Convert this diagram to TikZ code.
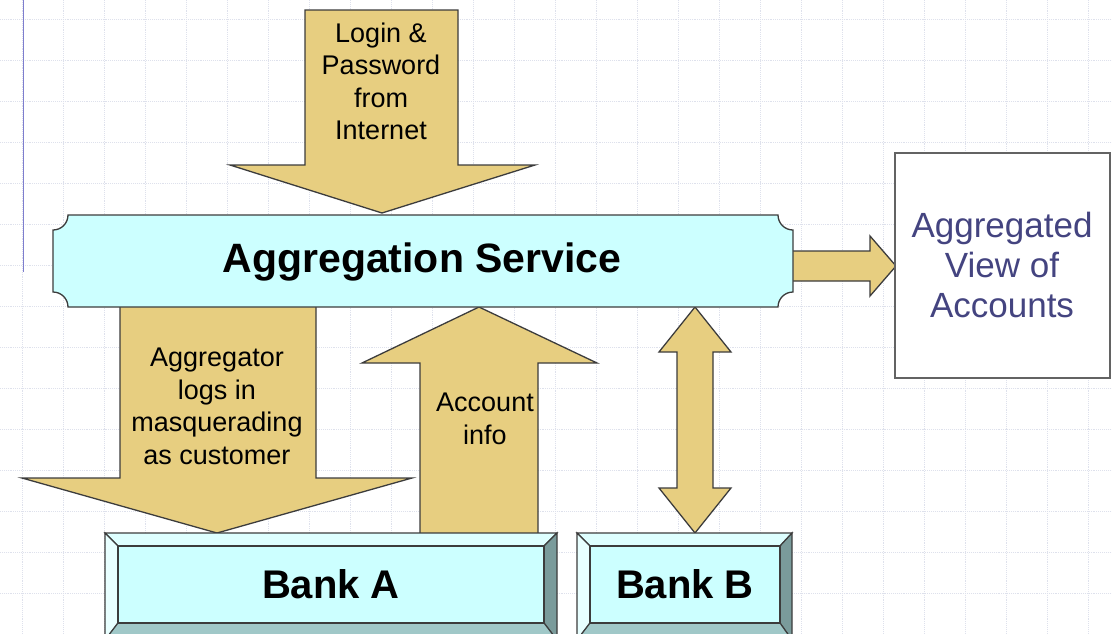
\documentclass[tikz,border=0pt]{standalone}
\usepackage{fontspec}
\setmainfont{Liberation Sans}
\usetikzlibrary{calc}
\definecolor{arrowfill}{RGB}{231,206,128}
\definecolor{edgegray}{RGB}{60,60,60}
\definecolor{boxcyan}{RGB}{204,255,255}
\definecolor{bevtop}{RGB}{222,255,255}
\definecolor{bevleft}{RGB}{232,255,255}
\definecolor{bevright}{RGB}{122,155,155}
\definecolor{bevbottom}{RGB}{160,200,200}
\definecolor{gridline}{RGB}{222,225,236}
\definecolor{viewtext}{RGB}{68,68,128}

\begin{document}
\begin{tikzpicture}[x=1pt,y=-1pt,
    blockarrow/.style={fill=arrowfill, draw=edgegray, line width=1.3pt},
    bevel/.style={draw=edgegray, line width=1.2pt},
    arrowtext/.style={align=center, inner sep=0pt, font=\fontsize{27}{32.5}\selectfont},
    banktext/.style={inner sep=0pt, font=\fontsize{40}{48}\selectfont\bfseries}]

    \clip (0,0) rectangle (1112,633);
    \fill[white] (0,0) rectangle (1112,633);

    % background grid
    \foreach \gx in {22,63,...,1112}
        \draw[gridline, densely dotted, line width=0.9pt] (\gx,0) -- (\gx,633);
    \foreach \gy in {19,60,...,633}
        \draw[gridline, densely dotted, line width=0.9pt] (0,\gy) -- (1112,\gy);
    \draw[blue!45!gray!70, line width=1pt] (23,0) -- (23,272);

    % arrows
    \draw[blockarrow] (305,10) -- (458,10) -- (458,165) -- (535,165) -- (382,213)
        -- (230,165) -- (305,165) -- cycle;
    \draw[blockarrow] (120,300) -- (316,300) -- (316,478) -- (412,478) -- (217,533)
        -- (22,478) -- (120,478) -- cycle;
    \draw[blockarrow] (420,540) -- (420,363) -- (362,363) -- (479,307) -- (597,363)
        -- (538,363) -- (538,540) -- cycle;
    \draw[blockarrow] (677,352) -- (659,352) -- (695,307) -- (731,352) -- (713,352)
        -- (713,488) -- (731,488) -- (695,533) -- (659,488) -- (677,488) -- cycle;
    \draw[blockarrow] (785,251) -- (870,251) -- (870,236) -- (896,266) -- (870,296)
        -- (870,281) -- (785,281) -- cycle;

    \node[arrowtext] (login) at (381,81.5) {Login \&\\Password\\from\\Internet};
    \node[arrowtext] (logs) at (217,406.5) {Aggregator\\logs in\\masquerading\\as customer};
    \node[arrowtext] (info) at (485,419) {Account\\info};

    % aggregation service plaque
    \draw[fill=boxcyan, draw=edgegray, line width=1.3pt]
        (68,215) -- (778,215) arc[start angle=180, end angle=270, radius=15pt]
        -- (793,292) arc[start angle=90, end angle=180, radius=15pt]
        -- (68,307) arc[start angle=0, end angle=90, radius=15pt]
        -- (53,230) arc[start angle=270, end angle=360, radius=15pt] -- cycle;
    \node[inner sep=0pt, font=\fontsize{41}{49}\selectfont\bfseries] (service) at (422,262) {Aggregation Service};

    % aggregated view
    \draw[fill=white, draw=edgegray!80, line width=1.2pt] (895,153) rectangle (1110,378);
    \node[align=center, inner sep=0pt, text=viewtext, font=\fontsize{35}{40}\selectfont] (view) at (1002,265)
        {Aggregated\\View of\\Accounts};

    % bank A
    \fill[boxcyan] (118,546) rectangle (544,623);
    \draw[bevel, fill=bevtop] (105,533) -- (557,533) -- (544,546) -- (118,546) -- cycle;
    \draw[bevel, fill=bevleft] (105,533) -- (118,546) -- (118,623) -- (105,640) -- cycle;
    \draw[bevel, fill=bevright] (557,533) -- (557,640) -- (544,623) -- (544,546) -- cycle;
    \draw[bevel, fill=bevbottom] (118,623) -- (544,623) -- (557,640) -- (105,640) -- cycle;
    \draw[bevel] (118,546) rectangle (544,623);
    \node[banktext] (bankA) at (331,584) {Bank A};

    % bank B
    \fill[boxcyan] (590,546) rectangle (780,623);
    \draw[bevel, fill=bevtop] (577,533) -- (792,533) -- (780,546) -- (590,546) -- cycle;
    \draw[bevel, fill=bevleft] (577,533) -- (590,546) -- (590,623) -- (577,640) -- cycle;
    \draw[bevel, fill=bevright] (792,533) -- (792,640) -- (780,623) -- (780,546) -- cycle;
    \draw[bevel, fill=bevbottom] (590,623) -- (780,623) -- (792,640) -- (577,640) -- cycle;
    \draw[bevel] (590,546) rectangle (780,623);
    \node[banktext] (bankB) at (685,584) {Bank B};

\end{tikzpicture}
\end{document}
